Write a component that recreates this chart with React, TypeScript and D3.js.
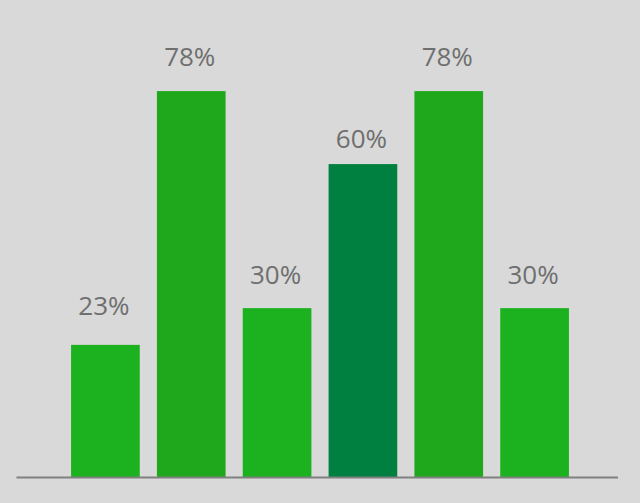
import React, { useEffect, useRef } from "react";
import * as d3 from "d3";

// bar order, left to right
const categories = ["A", "B", "C", "D", "E", "F"];
// label text shown above each bar (percent)
const percents = [23, 78, 30, 60, 78, 30];
// bar heights (share of full chart height)
const barValues = [27.7, 80.9, 35.4, 65.6, 80.9, 35.4];
const barColors = ["#1bb11f", "#1fa81b", "#1bb11f", "#008040", "#1fa81b", "#1bb11f"];

const App: React.FC = () => {
  const svgRef = useRef<SVGSVGElement | null>(null);

  useEffect(() => {
    if (!svgRef.current) return;
    const width = 640;
    const height = 503;
    const baseY = 477;

    const svg = d3.select(svgRef.current);
    svg.selectAll("*").remove();

    svg
      .append("rect")
      .attr("width", width)
      .attr("height", height)
      .attr("fill", "#d9d9d9");

    const x = d3
      .scaleBand()
      .domain(categories)
      .range([62.5, 577.5])
      .paddingInner(0.2)
      .paddingOuter(0.1);

    const y = d3.scaleLinear().domain([0, 100]).range([baseY, 0]);
    // label baselines follow the percent values
    const yLabel = d3.scaleLinear().domain([0, 100]).range([419.7, -33.6]);

    svg
      .append("g")
      .selectAll("rect")
      .data(barValues)
      .join("rect")
      .attr("x", (_, i) => x(categories[i]) || 0)
      .attr("width", x.bandwidth())
      .attr("y", (d) => y(d))
      .attr("height", (d) => baseY - y(d))
      .attr("fill", (_, i) => barColors[i]);

    svg
      .append("g")
      .selectAll("text")
      .data(percents)
      .join("text")
      .attr("x", (_, i) => (x(categories[i]) || 0) + x.bandwidth() / 2 - 1.5)
      .attr("y", (d) => yLabel(d))
      .attr("text-anchor", "middle")
      .attr("font-family", "'Open Sans', 'Noto Sans', sans-serif")
      .attr("font-size", 26)
      .attr("fill", "#6f6f6f")
      .text((d) => `${d}%`);

    // baseline
    svg
      .append("line")
      .attr("x1", 16.5)
      .attr("x2", 618)
      .attr("y1", baseY + 0.5)
      .attr("y2", baseY + 0.5)
      .attr("stroke", "#808080")
      .attr("stroke-width", 2);
  }, []);

  return (
    <svg
      ref={svgRef}
      width={640}
      height={503}
      style={{ position: "absolute", left: 0, top: 0, display: "block" }}
    ></svg>
  );
};

export default App;
